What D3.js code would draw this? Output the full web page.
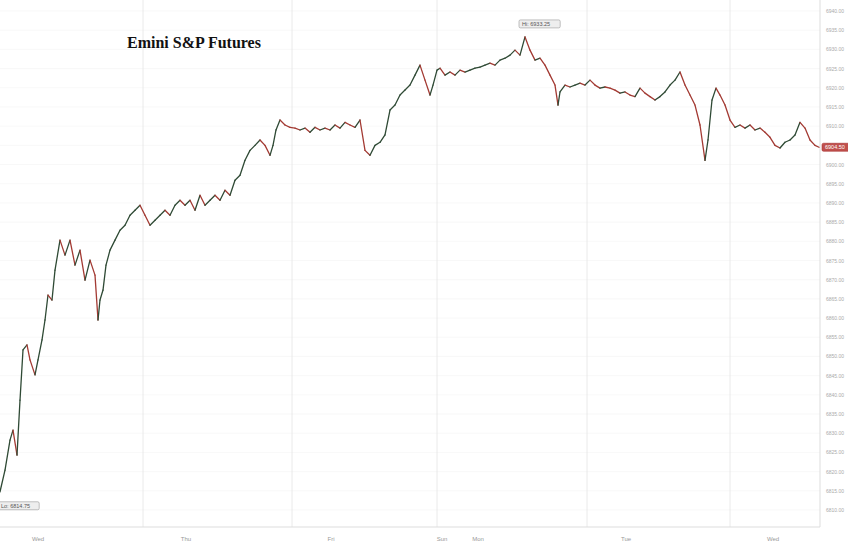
<!DOCTYPE html>
<html><head><meta charset="utf-8">
<script src="https://cdn.jsdelivr.net/npm/d3@7"></script>
<style>body{margin:0;background:#fff}svg{display:block}</style></head>
<body><svg id="c" width="848" height="546"></svg>
<script>
// session time index (Wed open = -3, day gridlines at dayBounds)
const times = [0,5,10,13,17,20,23,27,30,35,38,42,45,48,52,55,60,65,70,75,80,85,90,95,98,100,103,106,110,115,120,125,130,135,140,145,150,155,160,165,170,175,180,185,190,195,200,205,210,215,220,225,230,235,240,245,250,255,260,265,270,273,276,280,285,290,295,300,305,310,315,320,325,330,335,340,345,350,355,360,365,370,375,380,385,390,395,400,405,410,415,420,425,430,433,437,440,445,450,455,460,465,470,475,480,485,490,495,500,505,510,515,520,525,530,535,540,545,550,555,558,560,565,570,575,580,585,590,595,600,605,610,615,620,625,630,635,640,645,650,655,660,665,670,675,680,685,690,695,700,705,708,712,716,720,725,730,735,740,745,750,755,760,765,770,775,780,785,790,795,800,805,810,815,819];
const prices = [6814.75,6820.4,6828.2,6830.8,6824.3,6838.6,6851.7,6853,6849.1,6845.2,6849.1,6854.3,6859.5,6866,6864.7,6872.5,6880.3,6876.4,6880.3,6873.8,6877.7,6869.9,6875.1,6871.2,6859.5,6864.7,6867.3,6873.8,6877.7,6880.3,6882.9,6884.2,6886.8,6888.1,6889.4,6886.8,6884.2,6885.5,6886.8,6888.1,6886.8,6889.4,6890.7,6889.4,6890.7,6888.1,6892,6889.4,6890.7,6892,6890.7,6893.3,6892,6895.9,6897.2,6901.1,6903.7,6905,6906.4,6905,6902.4,6905,6909,6911.6,6910.3,6909.7,6909.5,6909,6909.5,6908.4,6909.7,6909,6909.5,6909,6910.3,6909.5,6911,6910.3,6909.7,6911.6,6903.7,6902.4,6905,6905.8,6907.7,6914.2,6915.5,6918.1,6919.4,6920.7,6923.3,6925.9,6922,6918.1,6920.7,6924.6,6925.1,6923.3,6924.1,6923.3,6924.6,6924.1,6924.6,6925.1,6925.4,6925.9,6926.4,6925.9,6927.2,6927.7,6928.5,6929.8,6928.5,6933.25,6929.8,6927.2,6927.7,6925.9,6923.3,6920.7,6915.5,6918.9,6920.7,6920.2,6920.7,6921.2,6920.7,6922,6920.7,6919.9,6920.2,6919.9,6919.4,6918.6,6918.9,6918.1,6917.7,6919.9,6918.6,6917.7,6916.8,6917.7,6918.9,6920.7,6922,6924.1,6920.7,6918.1,6915.5,6910.3,6901.1,6906.4,6916.8,6919.9,6918.1,6915.5,6911.6,6909.7,6910.3,6909.5,6910.3,6909,6909.5,6908.4,6907.1,6905,6904.3,6905.8,6906.4,6907.7,6911,6909.5,6906.4,6905,6904.5];
const dayBounds = [-3,143,292,437,587,730];
const dayLabels = [["Wed",38],["Thu",186],["Fri",331],["Sun",442],["Mon",478],["Tue",626],["Wed",773]];
const yTicks = d3.range(6810,6941,5);
const hiLabel = "Hi: 6933.25", loLabel = "Lo: 6814.75", lastLabel = "6904.50";
const title = "Emini S&P Futures";

const svg = d3.select("#c");
const x = d3.scaleLinear().domain([-3,820]).range([-3,820]);
const y = d3.scaleLinear().domain([6810,6940]).range([510,11]);

// grid
svg.selectAll(".hg").data(yTicks).enter().append("line")
 .attr("x1",0).attr("x2",820).attr("y1",d=>y(d)).attr("y2",d=>y(d))
 .attr("stroke","#f3f3f3").attr("stroke-width",0.6);
svg.selectAll(".vg").data(dayBounds.slice(1)).enter().append("line")
 .attr("x1",d=>x(d)).attr("x2",d=>x(d)).attr("y1",0).attr("y2",527)
 .attr("stroke","#e4e4e4").attr("stroke-width",0.8);
svg.append("line").attr("x1",820).attr("x2",820).attr("y1",0).attr("y2",527).attr("stroke","#ddd");
svg.append("line").attr("x1",0).attr("x2",820).attr("y1",527).attr("y2",527).attr("stroke","#ddd");

// y labels
svg.selectAll(".yl").data(yTicks).enter().append("text")
 .attr("x",826).attr("y",d=>y(d)+2).text(d=>d.toFixed(2))
 .attr("font-family","Arial").attr("font-size",5).attr("fill","#aaa");
// x labels
svg.selectAll(".xl").data(dayLabels).enter().append("text")
 .attr("x",d=>x(d[1])).attr("y",541).attr("text-anchor","middle").text(d=>d[0])
 .attr("font-family","Arial").attr("font-size",6).attr("fill","#999");

// line segments colored by direction
const pts = times.map((t,i)=>[x(t),y(prices[i])]);
for(let i=1;i<pts.length;i++){
  svg.append("line").attr("x1",pts[i-1][0]).attr("y1",pts[i-1][1]).attr("x2",pts[i][0]).attr("y2",pts[i][1])
   .attr("stroke",prices[i]>=prices[i-1]?"#2f4a35":"#a33a33").attr("stroke-width",1.3).attr("stroke-linecap","round");
}

// title
svg.append("text").attr("x",127).attr("y",48).text(title)
 .attr("font-family","Liberation Serif, serif").attr("font-weight","bold").attr("font-size",16).attr("fill","#111");

function tag(cx,cy,txt,fill,stroke,col){
  const g=svg.append("g");
  const w=txt.length*3.2+6;
  g.append("rect").attr("x",cx).attr("y",cy-4).attr("width",w).attr("height",8).attr("rx",1.5)
   .attr("fill",fill).attr("stroke",stroke).attr("stroke-width",0.6);
  g.append("text").attr("x",cx+3).attr("y",cy+2).text(txt).attr("font-family","Arial").attr("font-size",5.5).attr("fill",col);
}
const hiI = prices.indexOf(d3.max(prices)), loI = prices.indexOf(d3.min(prices));
tag(x(times[hiI])-6,y(prices[hiI])-13,hiLabel,"#eee","#999","#555");
tag(x(times[loI])-2,y(prices[loI])+14,loLabel,"#eee","#999","#555");
tag(822,y(prices[prices.length-1]),lastLabel,"#c0504d","#a33","#fff");
</script></body></html>
